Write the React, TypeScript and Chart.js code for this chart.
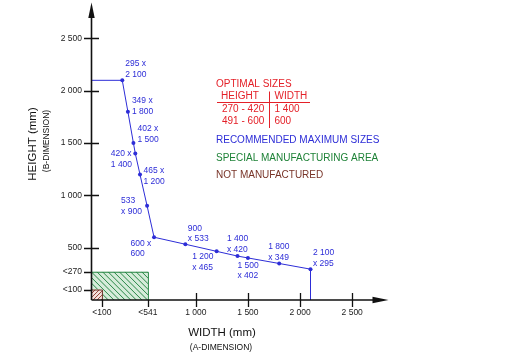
import React, { useEffect, useRef } from "react";
import { Chart, registerables } from "chart.js";

Chart.register(...registerables);

// ---------- data ----------
const widths = [295, 349, 402, 420, 465, 533, 600, 900, 1200, 1400, 1500, 1800, 2100];
const heights = [2100, 1800, 1500, 1400, 1200, 900, 600, 533, 465, 420, 402, 349, 295];
const pointLabels = [
  ["295 x", "2 100"],
  ["349 x", "1 800"],
  ["402 x", "1 500"],
  ["420 x", "1 400"],
  ["465 x", "1 200"],
  ["533", "x 900"],
  ["600 x", "600"],
  ["900", "x 533"],
  ["1 200", "x 465"],
  ["1 400", "x 420"],
  ["1 500", "x 402"],
  ["1 800", "x 349"],
  ["2 100", "x 295"],
];
const xTickValues = [100, 541, 1000, 1500, 2000, 2500];
const xTickLabels = ["<100", "<541", "1 000", "1 500", "2 000", "2 500"];
const yTickValues = [100, 270, 500, 1000, 1500, 2000, 2500];
const yTickLabels = ["<100", "<270", "500", "1 000", "1 500", "2 000", "2 500"];
const specialAreaLimits = [541, 270]; // width, height
const notManufacturedLimits = [100, 100]; // width, height
const optimalHeights = ["270 - 420", "491 - 600"];
const optimalWidths = ["1 400", "600"];
const xTitle = "WIDTH (mm)";
const xSubtitle = "(A-DIMENSION)";
const yTitle = "HEIGHT (mm)";
const ySubtitle = "(B-DIMENSION)";
const legendTitle = "OPTIMAL SIZES";
const legendHeaders = ["HEIGHT", "WIDTH"];
const legendLines = ["RECOMMENDED MAXIMUM SIZES", "SPECIAL MANUFACTURING AREA", "NOT MANUFACTURED"];

// ---------- styles / placement ----------
const X_MAX = 2800;
const Y_MAX = 2800;
const FONT = '"Liberation Sans", Arial, sans-serif';
const BLUE = "rgb(45,45,215)";
const RED = "rgb(228,32,40)";
const GREEN = "rgb(30,130,55)";
const BROWN = "rgb(120,52,40)";
const AXIS = "#111";
// pixel offsets of label text (left edge, first line centre) from each point
const labelOffsets = [
  [3, -16.5], [4, -11], [4, -14], [-24.5, 0.5], [3.5, -4], [-26, -5], [-23.5, 6],
  [2.5, -16], [-24.5, 5.5], [-10.5, -17], [-10.5, 7.5], [-11, -17], [2.5, -16],
];

function hatchRect(ctx: CanvasRenderingContext2D, x0: number, y0: number, x1: number, y1: number,
  fill: string, line: string, dir: number, step: number) {
  ctx.save();
  ctx.fillStyle = fill;
  ctx.fillRect(x0, y0, x1 - x0, y1 - y0);
  ctx.beginPath();
  ctx.rect(x0, y0, x1 - x0, y1 - y0);
  ctx.clip();
  ctx.strokeStyle = line;
  ctx.lineWidth = 1;
  ctx.beginPath();
  const h = y1 - y0;
  for (let c = x0 - h - step; c < x1 + h + step; c += step) {
    if (dir > 0) {
      // "\" lines
      ctx.moveTo(c, y0);
      ctx.lineTo(c + h, y1);
    } else {
      // "/" lines
      ctx.moveTo(c + h, y0);
      ctx.lineTo(c, y1);
    }
  }
  ctx.stroke();
  ctx.restore();
}

const diagramPlugin = {
  id: "diagram",
  beforeDatasetsDraw(chart: any) {
    const { ctx, scales } = chart;
    const xs = scales.x, ys = scales.y;
    const x0 = xs.getPixelForValue(0), y0 = ys.getPixelForValue(0);
    // special manufacturing area
    const sx = xs.getPixelForValue(specialAreaLimits[0]);
    const sy = ys.getPixelForValue(specialAreaLimits[1]);
    hatchRect(ctx, x0, sy, sx, y0, "rgb(214,236,218)", "rgb(40,135,70)", 1, 5.6);
    ctx.save();
    ctx.strokeStyle = "rgb(40,135,70)";
    ctx.lineWidth = 1;
    ctx.beginPath();
    ctx.moveTo(x0, sy + 0.5);
    ctx.lineTo(sx + 0.5, sy + 0.5);
    ctx.lineTo(sx + 0.5, y0);
    ctx.stroke();
    ctx.restore();
    // not manufactured
    const nx = xs.getPixelForValue(notManufacturedLimits[0]);
    const ny = ys.getPixelForValue(notManufacturedLimits[1]);
    hatchRect(ctx, x0, ny, nx, y0, "rgb(245,226,222)", "rgb(150,70,60)", -1, 4);
    ctx.save();
    ctx.strokeStyle = "rgb(110,50,40)";
    ctx.lineWidth = 1;
    ctx.beginPath();
    ctx.moveTo(x0, ny + 0.5);
    ctx.lineTo(nx + 0.5, ny + 0.5);
    ctx.lineTo(nx + 0.5, y0);
    ctx.stroke();
    ctx.restore();
  },
  afterDatasetsDraw(chart: any) {
    const { ctx, scales } = chart;
    const xs = scales.x, ys = scales.y;
    const ax = xs.getPixelForValue(0);
    const ay = ys.getPixelForValue(0);
    ctx.save();
    // axes
    ctx.strokeStyle = AXIS;
    ctx.fillStyle = AXIS;
    ctx.lineWidth = 1.6;
    ctx.beginPath();
    ctx.moveTo(ax, ay);
    ctx.lineTo(ax, 14);
    ctx.moveTo(ax, ay);
    ctx.lineTo(376, ay);
    ctx.stroke();
    // arrow heads
    ctx.beginPath();
    ctx.moveTo(ax, 2.5);
    ctx.lineTo(ax - 3.2, 18);
    ctx.lineTo(ax + 3.2, 18);
    ctx.closePath();
    ctx.fill();
    ctx.beginPath();
    ctx.moveTo(388.5, ay);
    ctx.lineTo(372.5, ay - 3.2);
    ctx.lineTo(372.5, ay + 3.2);
    ctx.closePath();
    ctx.fill();
    // ticks
    ctx.lineWidth = 1.3;
    ctx.beginPath();
    yTickValues.forEach((v) => {
      const py = Math.round(ys.getPixelForValue(v)) + 0.5;
      const full = v > specialAreaLimits[1];
      ctx.moveTo(ax - 7.5, py);
      ctx.lineTo(full ? ax + 7.5 : ax, py);
    });
    xTickValues.forEach((v) => {
      const px = Math.round(xs.getPixelForValue(v)) + 0.5;
      const full = v > specialAreaLimits[0];
      ctx.moveTo(px, ay + 7);
      ctx.lineTo(px, full ? ay - 7 : ay);
    });
    ctx.stroke();
    // tick labels
    ctx.font = `8.5px ${FONT}`;
    ctx.fillStyle = "#222";
    ctx.textBaseline = "middle";
    ctx.textAlign = "right";
    yTickValues.forEach((v, i) => {
      ctx.fillText(yTickLabels[i], ax - 9.5, ys.getPixelForValue(v));
    });
    ctx.textAlign = "center";
    xTickValues.forEach((v, i) => {
      ctx.fillText(xTickLabels[i], xs.getPixelForValue(v), ay + 12.5);
    });
    // axis titles
    ctx.fillStyle = "#111";
    ctx.font = `11.5px ${FONT}`;
    ctx.fillText(xTitle, 222, 333);
    ctx.font = `8.5px ${FONT}`;
    ctx.fillText(xSubtitle, 221, 348);
    ctx.save();
    ctx.translate(33, 144);
    ctx.rotate(-Math.PI / 2);
    ctx.font = `11.5px ${FONT}`;
    ctx.fillText(yTitle, 0, 0);
    ctx.restore();
    ctx.save();
    ctx.translate(47, 141);
    ctx.rotate(-Math.PI / 2);
    ctx.font = `8.5px ${FONT}`;
    ctx.fillText(ySubtitle, 0, 0);
    ctx.restore();

    // point labels
    const meta = chart.getDatasetMeta(0);
    ctx.fillStyle = BLUE;
    ctx.font = `8.5px ${FONT}`;
    ctx.textAlign = "left";
    meta.data.forEach((el: any, i: number) => {
      const [dx, dy] = labelOffsets[i];
      ctx.fillText(pointLabels[i][0], el.x + dx, el.y + dy);
      ctx.fillText(pointLabels[i][1], el.x + dx, el.y + dy + 10.7);
    });

    // legend block
    ctx.font = `10px ${FONT}`;
    ctx.fillStyle = RED;
    ctx.fillText(legendTitle, 216, 84);
    ctx.fillText(legendHeaders[0], 221, 96.5);
    ctx.fillText(legendHeaders[1], 274.5, 96.5);
    optimalHeights.forEach((h, i) => {
      ctx.fillText(h, 222, 109 + i * 12.5);
      ctx.fillText(optimalWidths[i], 274.5, 109 + i * 12.5);
    });
    ctx.strokeStyle = RED;
    ctx.lineWidth = 1;
    ctx.beginPath();
    ctx.moveTo(217, 102.5);
    ctx.lineTo(310, 102.5);
    ctx.moveTo(269.5, 91.5);
    ctx.lineTo(269.5, 128);
    ctx.stroke();
    ctx.fillStyle = BLUE;
    ctx.fillText(legendLines[0], 216, 140);
    ctx.fillStyle = GREEN;
    ctx.fillText(legendLines[1], 216, 158);
    ctx.fillStyle = BROWN;
    ctx.fillText(legendLines[2], 216, 175.5);
    ctx.restore();
  },
};

function DiagramChart() {
  const ref = useRef<HTMLCanvasElement>(null);
  useEffect(() => {
    const last = widths.length - 1;
    const chart = new Chart(ref.current as HTMLCanvasElement, {
      type: "scatter",
      data: {
        datasets: [
          {
            data: widths.map((w, i) => ({ x: w, y: heights[i] })),
            showLine: true,
            borderColor: BLUE,
            backgroundColor: BLUE,
            borderWidth: 1,
            pointRadius: 2,
            pointBorderWidth: 0,
          },
          {
            data: [{ x: 0, y: heights[0] }, { x: widths[0], y: heights[0] }],
            showLine: true,
            borderColor: BLUE,
            borderWidth: 1,
            pointRadius: 0,
          },
          {
            data: [{ x: widths[last], y: heights[last] }, { x: widths[last], y: 0 }],
            showLine: true,
            borderColor: BLUE,
            borderWidth: 1,
            pointRadius: 0,
          },
        ],
      },
      options: {
        responsive: false,
        animation: false,
        layout: { padding: { left: 91.5, right: 121.5, top: 7.1, bottom: 59 } },
        scales: {
          x: { type: "linear", min: 0, max: X_MAX, display: false },
          y: { type: "linear", min: 0, max: Y_MAX, display: false },
        },
        plugins: { legend: { display: false }, tooltip: { enabled: false } },
      },
      plugins: [diagramPlugin],
    } as any);
    return () => chart.destroy();
  }, []);
  return <canvas ref={ref} width={505} height={359} style={{ display: "block" }} />;
}

export default function App() {
  return (
    <div style={{ position: "fixed", left: 0, top: 0, width: 505, height: 359, background: "#fff" }}>
      <DiagramChart />
    </div>
  );
}
